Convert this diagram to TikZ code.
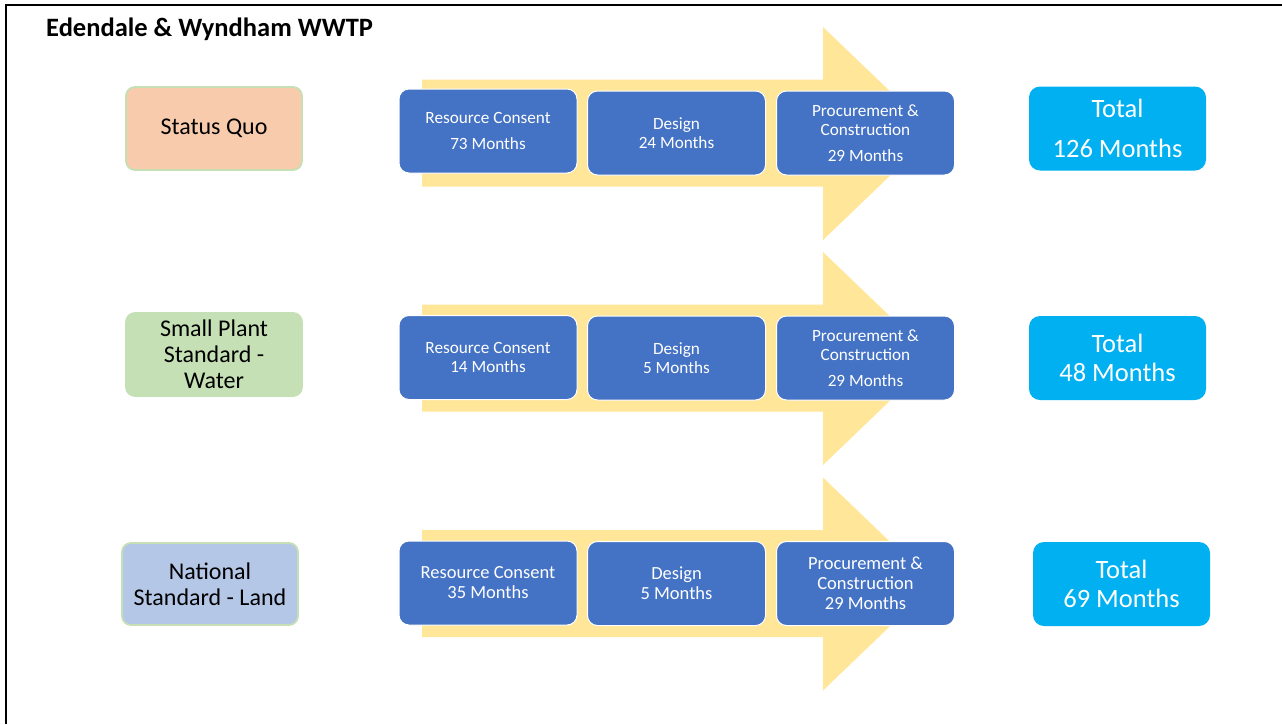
\documentclass[tikz,border=0pt]{standalone}
\usepackage{fontspec}
\setmainfont{Carlito}
\definecolor{arrowyellow}{HTML}{FFE699}
\definecolor{stepblue}{HTML}{4472C4}
\definecolor{totalblue}{HTML}{00B0F0}
\definecolor{lblgreen}{HTML}{C5E0B4}
\definecolor{lblorange}{HTML}{F8CBAD}
\definecolor{lblblue}{HTML}{B4C7E7}
\tikzset{
  optbox/.style={draw=lblgreen, line width=1.8pt, rounded corners=9pt, align=center,
    inner sep=0pt, outer sep=0pt, text=black, font=\fontsize{24}{26}\selectfont},
  stepbox/.style={fill=stepblue, draw=white, line width=1pt, rounded corners=10pt, align=center,
    inner sep=0pt, outer sep=0pt, text=white, minimum width=178pt, minimum height=84pt,
    font=\fontsize{17.2}{19}\selectfont},
  stepboxbig/.style={stepbox, font=\fontsize{18.5}{20}\selectfont},
  totalbox/.style={fill=totalblue, draw=none, rounded corners=11pt, align=center,
    inner sep=0pt, outer sep=0pt, text=white, minimum width=177pt, minimum height=84pt,
    font=\fontsize{26.5}{29}\selectfont},
  arrowfill/.style={fill=arrowyellow},
  frameline/.style={line width=2pt, draw=black}
}
\begin{document}
\begin{tikzpicture}[x=1pt,y=-1pt]
\useasboundingbox (0,0) rectangle (1282,724);
\draw[frameline] (6,724) -- (6,5) -- (1282,5);
\node[anchor=base west, inner sep=0pt, font=\fontsize{26.5}{30}\selectfont\bfseries] (title) at (46,36) {Edendale \& Wyndham WWTP};
% arrows
\foreach \c in {133.5,358.5,584}{
  \fill[arrowfill] (422,\c-54) -- (823,\c-54) -- (823,\c-106.5) -- (934,\c) -- (823,\c+106.5) -- (823,\c+53) -- (422,\c+53) -- cycle;
}
% row 1
\node[optbox, fill=lblorange, minimum width=176pt, minimum height=83pt] (sq) at (214,128.5) {Status Quo};
\node[stepbox] (r1a) at (488,131) {Resource Consent\\[7pt]73 Months};
\node[stepbox] (r1b) at (676.5,133) {Design\\24 Months};
\node[stepbox] (r1c) at (865.5,133) {Procurement \&\\Construction\\[7pt]29 Months};
\node[totalbox] (t1) at (1117.5,128.5) {Total\\[11pt]126 Months};
% row 2
\node[optbox, fill=lblgreen, minimum width=176pt, minimum height=83pt] (sp) at (214,354.5) {Small Plant\\Standard -\\Water};
\node[stepbox] (r2a) at (488,357.5) {Resource Consent\\14 Months};
\node[stepbox] (r2b) at (676.5,358) {Design\\5 Months};
\node[stepbox] (r2c) at (865.5,358) {Procurement \&\\Construction\\[7pt]29 Months};
\node[totalbox] (t2) at (1117.5,358) {Total\\48 Months};
% row 3
\node[optbox, fill=lblblue, minimum width=176pt, minimum height=82pt] (ns) at (210,584) {National\\Standard - Land};
\node[stepboxbig] (r3a) at (488,583) {Resource Consent\\35 Months};
\node[stepboxbig] (r3b) at (676.5,583.5) {Design\\5 Months};
\node[stepboxbig] (r3c) at (865.5,583.5) {Procurement \&\\Construction\\29 Months};
\node[totalbox] (t3) at (1121.5,584) {Total\\69 Months};
\end{tikzpicture}
\end{document}
